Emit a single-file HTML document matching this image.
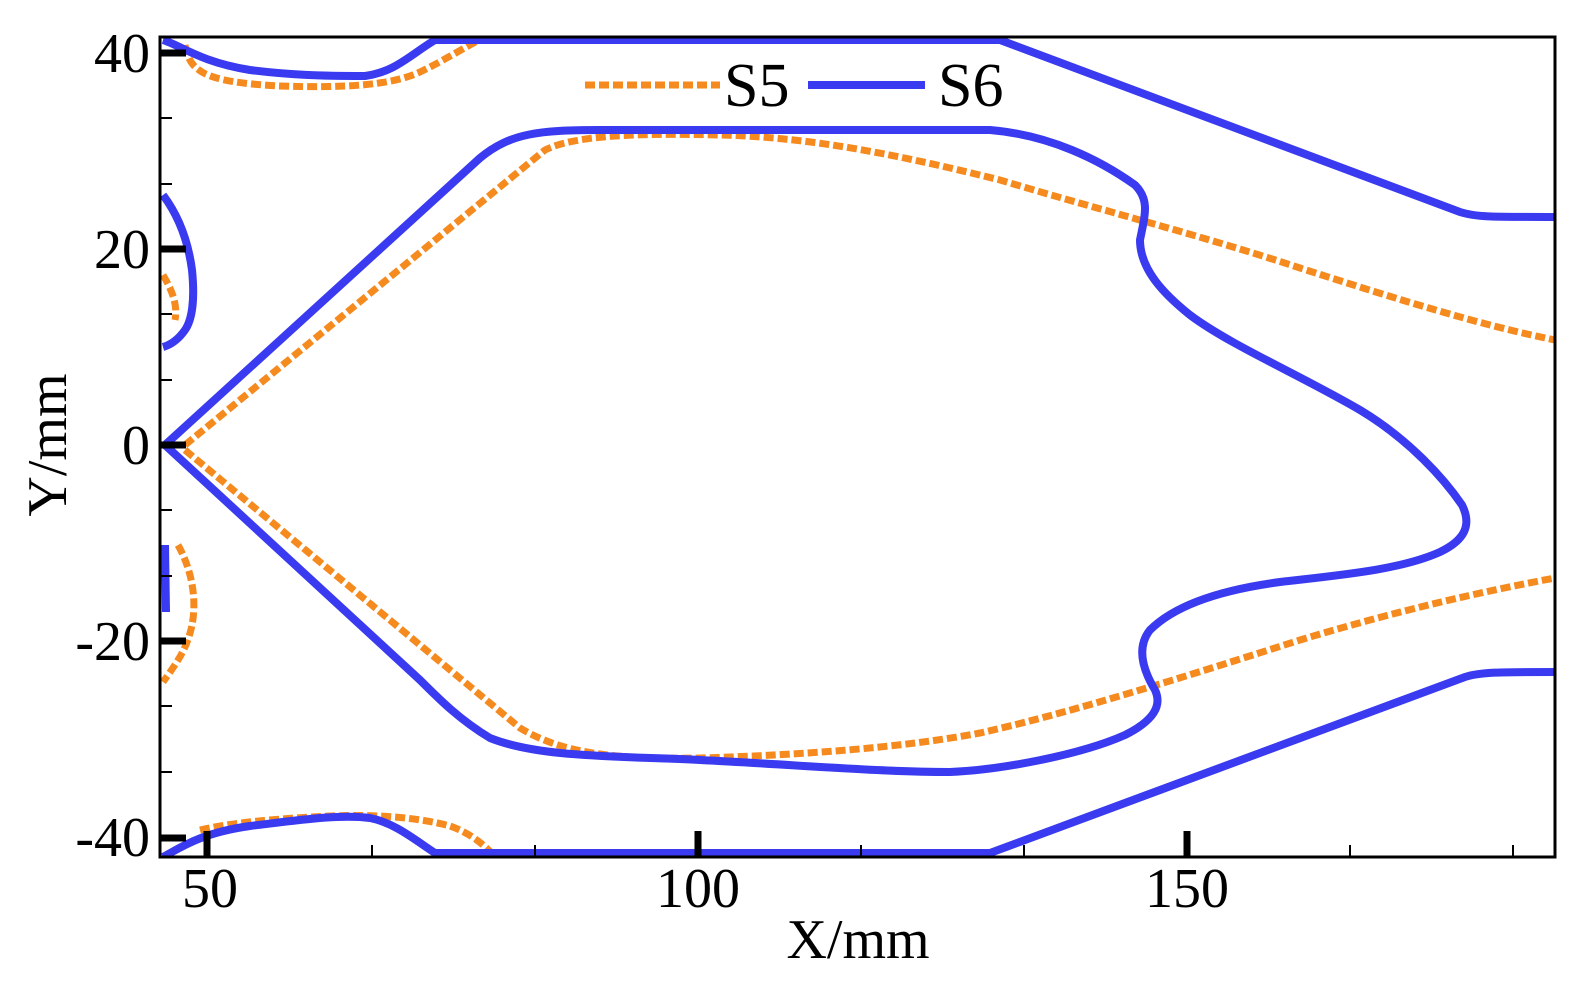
<!DOCTYPE html>
<html><head><meta charset="utf-8"><style>
html,body{margin:0;padding:0;background:#fff;}
svg{display:block;}
text{font-family:"Liberation Serif",serif;fill:#000;}
</style></head><body>
<svg width="1569" height="983" viewBox="0 0 1569 983" xmlns="http://www.w3.org/2000/svg">
<defs><clipPath id="c"><rect x="160" y="37" width="1395" height="820"/></clipPath></defs>
<g clip-path="url(#c)" fill="none" stroke-linejoin="round" stroke-linecap="butt">
<g stroke="#f58a1f" stroke-width="7" stroke-dasharray="10,4">
<path d="M185,445 L545,150 C575,135 640,133 720,135 C800,137 880,150 1000,180 C1100,210 1200,235 1300,268 C1400,300 1480,325 1555,340"/>
<path d="M185,450 L520,728 C560,752 610,760 700,758 C800,755 900,748 980,733 C1060,715 1150,688 1300,640 C1400,610 1480,592 1555,578"/>
<path d="M185,45 C190,70 200,82 280,86 C340,88 390,86 420,72 C445,60 465,47 485,37"/>
<path d="M200,830 C230,823 270,819 330,816 C380,814 420,818 450,826 C470,833 485,845 495,857"/>
<path d="M163,275 C172,290 178,305 175,320"/>
<path d="M178,545 C192,570 197,600 192,625 C187,650 175,665 163,682"/>
</g>
<g stroke="#3a3af0" stroke-width="8">
<path d="M165,445 L480,158 C510,133 540,130 600,130 L990,130 C1050,135 1100,160 1135,185 C1150,200 1145,215 1140,240 C1140,270 1165,295 1190,315 C1230,345 1300,375 1360,410 C1410,440 1445,480 1462,505 C1472,525 1465,540 1440,552 C1400,570 1340,575 1280,582 C1220,590 1175,605 1150,630 C1138,645 1140,665 1155,690 C1162,705 1155,720 1125,735 C1080,755 1000,770 950,772 C880,772 800,765 700,760 C620,756 540,758 490,738 C460,720 440,700 420,680 L165,445"/>
<path d="M163,40 C180,45 200,62 250,70 C290,75 320,76 365,76 C395,72 410,55 435,40 L1000,40 L1460,212 C1475,217 1490,217 1555,217"/>
<path d="M163,857 C180,848 200,833 250,826 C300,820 340,814 370,818 C395,823 415,840 435,853 L990,853 L1465,677 C1480,672 1500,672 1555,672"/>
<path d="M163,195 C178,215 188,240 192,270 C195,300 192,320 185,330 C178,340 170,345 163,347"/>
<path d="M165,545 L166,612"/>
</g>
</g>
<rect x="160" y="37" width="1395" height="820" fill="none" stroke="#000" stroke-width="3"/>
<g stroke="#000" stroke-width="2">
<path d="M160,118h12M160,184h12M160,314h12M160,380h12M160,510h12M160,576h12M160,706h12M160,772h12"/>
<path d="M372,857v-12M535,857v-12M861,857v-12M1024,857v-12M1350,857v-12M1513,857v-12"/>
</g>
<g stroke="#000" stroke-width="7">
<path d="M160,53h26M160,249h26M160,445h26M160,641h26M160,838h26"/>
<path d="M207,857v-26M698,857v-26M1187,857v-26"/>
</g>
<g font-size="56" text-anchor="end">
<text x="150" y="72">40</text><text x="150" y="268">20</text><text x="150" y="464">0</text>
<text x="150" y="660">-20</text><text x="150" y="856">-40</text>
</g>
<g font-size="56" text-anchor="middle">
<text x="210" y="907">50</text><text x="698" y="907">100</text><text x="1187" y="907">150</text>
<text x="858" y="958">X/mm</text>
<text transform="translate(66,445) rotate(-90)">Y/mm</text>
</g>
<line x1="585" y1="85" x2="720" y2="85" stroke="#f58a1f" stroke-width="7" stroke-dasharray="10,4"/>
<text x="724" y="106" font-size="62">S5</text>
<line x1="808" y1="85" x2="925" y2="85" stroke="#3a3af0" stroke-width="8"/>
<text x="938" y="106" font-size="62">S6</text>
</svg>
</body></html>
